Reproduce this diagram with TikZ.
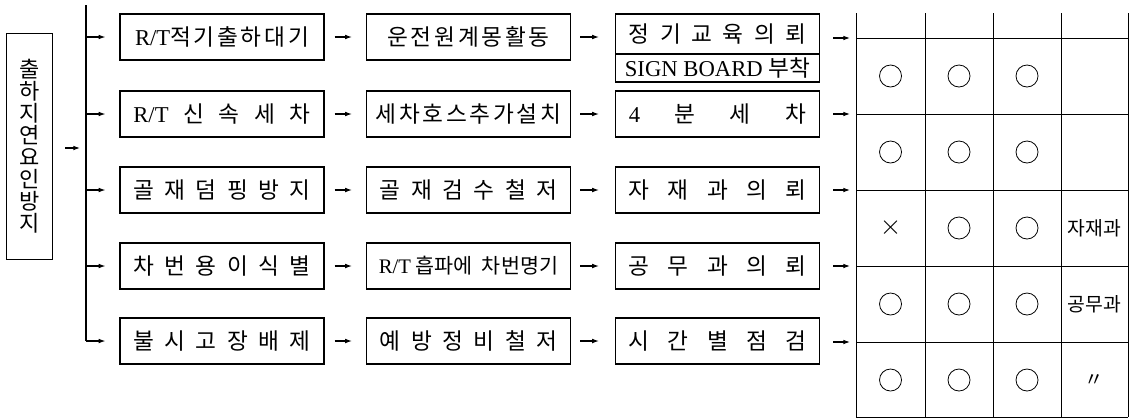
\documentclass[tikz,border=0pt]{standalone}
\usepackage{fontspec}
\setmainfont{Liberation Serif}
\newfontfamily\kr{Noto Sans CJK KR}
\newfontfamily\krw[LetterSpace=12]{Noto Sans CJK KR}
\usetikzlibrary{arrows.meta}
\tikzset{
  box/.style={draw, line width=0.9pt, minimum width=153pt, minimum height=34.5pt, inner sep=0pt, font=\kr\fontsize{17}{19}\selectfont},
  arr/.style={-{Latex[length=5pt,width=3.5pt]}, line width=0.8pt},
  okmark/.style={draw, circle, line width=0.6pt, minimum size=16.5pt, inner sep=0pt},
  note/.style={font=\kr\fontsize{14.5}{16}\selectfont}
}
\newcommand{\spr}[1]{\makebox[133pt][s]{#1}}
\newcommand{\lat}[1]{{\rmfamily #1}}
\begin{document}
\begin{tikzpicture}[x=0.75pt,y=-0.75pt]
	\useasboundingbox (0,0) rectangle (1130,419);
	% left box
	\node[draw, line width=0.9pt, minimum width=35pt, minimum height=169pt, align=center, inner sep=0pt, font=\kr\fontsize{16.5}{16.5}\selectfont] (lb) at (29.5,146.5) {출\\하\\지\\연\\요\\인\\방\\지};
	\coordinate (jn) at (86,148);
	\coordinate (top) at (86,5);
	\coordinate (bot) at (86,341);
	\draw[line width=0.8pt] (top) -- (bot);
	\draw[arr, shorten <=9pt, shorten >=4.5pt] (lb.east |- jn) -- (jn);
	% first column
	\node[box] (a1) at (222,37) {\krw\lat{R/T}적기출하대기};
	\node[box] (a2) at (222,114) {\spr{\lat{R/T} 신 속 세 차}};
	\node[box] (a3) at (222,190) {\spr{골 재 덤 핑 방 지}};
	\node[box] (a4) at (222,266) {\spr{차 번 용 이 식 별}};
	\node[box] (a5) at (222,341) {\spr{불 시 고 장 배 제}};
	% second column
	\node[box] (b1) at (468.5,37) {\krw 운전원계몽활동};
	\node[box] (b2) at (468.5,114) {\krw 세차호스추가설치};
	\node[box] (b3) at (468.5,190) {\spr{골 재 검 수 철 저}};
	\node[box] (b4) at (468.5,266) {\fontsize{15.5}{17}\selectfont\lat{R/T} 흡파에\ \ 차번명기};
	\node[box] (b5) at (468.5,341) {\spr{예 방 정 비 철 저}};
	% third column
	\node[box, minimum height=30pt] (c1) at (717.5,34) {\spr{정 기 교 육 의 뢰}};
	\node[box, minimum height=21pt, font=\fontsize{17}{19}\selectfont] (c1b) at (717.5,68) {SIGN BOARD {\kr 부착}};
	\node[box] (c2) at (717.5,114) {\spr{\lat{4} 분 세 차}};
	\node[box] (c3) at (717.5,190) {\spr{자 재 과 의 뢰}};
	\node[box] (c4) at (717.5,266) {\spr{공 무 과 의 뢰}};
	\node[box] (c5) at (717.5,341) {\spr{시 간 별 점 검}};
	% grid
	\foreach \x in {856,925,993,1061,1128}
		\draw[line width=0.7pt] (\x,13) -- (\x,417);
	\foreach \y in {38,114,190,266,342,417}
		\draw[line width=0.7pt] (856,\y) -- (1128,\y);
	\foreach \i/\y in {1/38,2/114,3/190,4/266,5/342}
		\coordinate (gl\i) at (856,\y);
	% connectors
	\foreach \i/\y in {1/37,2/114,3/190,4/266,5/341}{
		\coordinate (br\i) at (86,\y);
		\draw[arr, shorten >=10.5pt] (br\i) -- (a\i);
		\draw[arr, shorten <=7.5pt, shorten >=10.5pt] (a\i) -- (b\i);
	}
	\draw[arr, shorten <=6.75pt, shorten >=12pt] (b1) -- (c1.west |- b1);
	\foreach \i in {2,...,5}
		\draw[arr, shorten <=6.75pt, shorten >=12pt] (b\i) -- (c\i);
	\foreach \i in {1,...,5}
		\draw[arr, shorten <=9.75pt, shorten >=4.5pt] (c1.east |- gl\i) -- (gl\i);
	% table marks
	\foreach \r/\y in {1/76,2/152,4/304,5/380}
		\foreach \c/\x in {1/890.5,2/959,3/1027}
			\node[okmark] (m\r\c) at (\x,\y) {};
	\node[font=\fontsize{20}{22}\selectfont] (m31) at (890.5,228) {$\times$};
	\node[okmark] (m32) at (959,228) {};
	\node[okmark] (m33) at (1027,228) {};
	\node[note] (m34) at (1094.5,228) {자재과};
	\node[note] (m44) at (1094.5,304) {공무과};
	\node[note] (m54) at (1094.5,380) {〃};
\end{tikzpicture}
\end{document}
